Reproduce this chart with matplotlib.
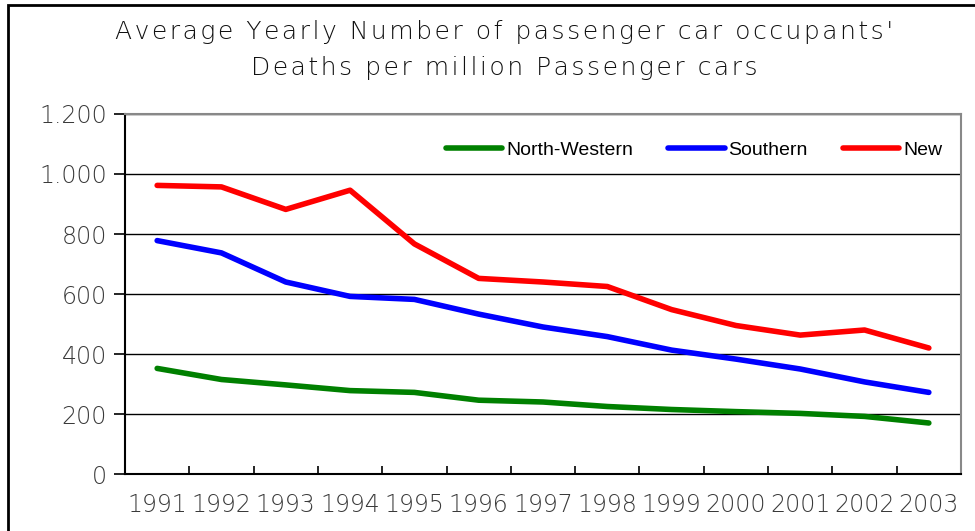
import matplotlib.pyplot as plt
from matplotlib.patches import Rectangle
from matplotlib.ticker import FuncFormatter, MultipleLocator
import numpy as np

years = ["1991", "1992", "1993", "1994", "1995", "1996", "1997",
         "1998", "1999", "2000", "2001", "2002", "2003"]
north_western = [352, 315, 297, 278, 272, 246, 240, 225, 215, 208, 202, 192, 170]
southern = [778, 737, 640, 592, 582, 533, 490, 458, 413, 383, 350, 307, 272]
new = [962, 957, 882, 946, 767, 652, 640, 625, 548, 495, 463, 480, 420]

title_lines = ["Average Yearly Number of passenger car occupants'",
               "Deaths per million Passenger cars"]

series = [
    ("North-Western", north_western, "#008000"),
    ("Southern", southern, "#0000ff"),
    ("New", new, "#ff0000"),
]


def spaced(text):
    # wide letter spacing like the original title
    return "\u200a".join(text)


fig = plt.figure(figsize=(9.75, 5.31), dpi=100)
fig.patches.append(Rectangle((8 / 975, -0.2), 1.2, (531 - 5) / 531 + 0.2,
                             transform=fig.transFigure, fill=False,
                             edgecolor="black", linewidth=2))
ax = fig.add_axes([125 / 975, 57 / 531, 836 / 975, 360 / 531])

x = np.arange(len(years))
for label, values, color in series:
    ax.plot(x, values, color=color, linewidth=4, solid_capstyle="round",
            label=label)

ax.set_xlim(-0.5, len(years) - 0.5)
ax.set_ylim(0, 1200)
ax.yaxis.set_major_locator(MultipleLocator(200))
ax.yaxis.set_major_formatter(
    FuncFormatter(lambda v, _: f"{int(v):,}".replace(",", ".")))
ax.set_xticks(np.arange(len(years) + 1) - 0.5)
ax.set_xticklabels([])
ax.set_xticks(x, minor=True)
ax.set_xticklabels(years, minor=True)
ax.tick_params(axis="x", which="minor", length=0, pad=14)
ax.tick_params(axis="x", which="major", length=6, direction="in", width=1.2)
ax.tick_params(axis="y", length=8, direction="out", width=1.2, pad=5)
for lab in ax.get_xticklabels(minor=True) + ax.get_yticklabels():
    lab.set_fontfamily("DejaVu Sans")
    lab.set_fontweight("light")
    lab.set_fontsize(17)
    lab.set_color("#3a3a3a")

ax.grid(axis="y", color="black", linewidth=1)
ax.set_axisbelow(True)
for side in ["left", "bottom"]:
    ax.spines[side].set_linewidth(1.5)
    ax.spines[side].set_color("black")
for side in ["top", "right"]:
    ax.spines[side].set_color("#888888")
    ax.spines[side].set_linewidth(1.5)

leg = ax.legend(loc="center right", ncol=3, frameon=False,
                bbox_to_anchor=(825 / 836, 0.9), handlelength=2.9,
                handletextpad=0.2, columnspacing=1.8, borderaxespad=0,
                prop={"family": "Liberation Sans", "size": 14})

title_font = dict(ha="center", va="center", fontsize=18,
                  fontfamily="DejaVu Sans", fontweight="light",
                  color="#111111")
fig.text(0.517, 0.94, spaced(title_lines[0]), **title_font)
fig.text(0.517, 0.872, spaced(title_lines[1]), **title_font)

fig.savefig("out.png", dpi=100)
